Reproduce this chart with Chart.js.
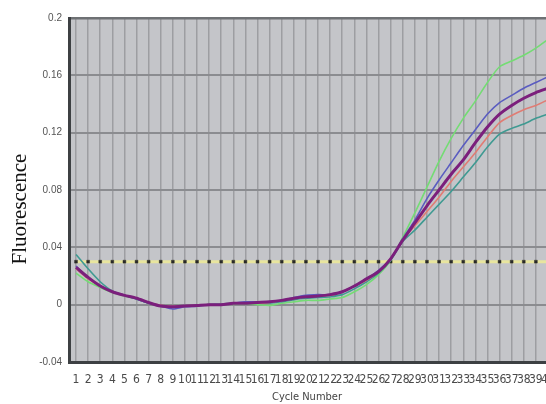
<!DOCTYPE html>
<html>
<head>
<meta charset="utf-8">
<script src="https://cdn.jsdelivr.net/npm/chart.js@4.4.1/dist/chart.umd.min.js"></script>
<style>
  html, body { margin: 0; padding: 0; background: #ffffff; }
  #wrap { width: 546px; height: 404px; overflow: hidden; position: relative; }
  canvas { display: block; }
</style>
</head>
<body>
<div id="wrap"><canvas id="c" width="580" height="404"></canvas></div>
<script>
// Amplification run: cycle numbers and fluorescence readings per well
const cycles = [1,2,3,4,5,6,7,8,9,10,11,12,13,14,15,16,17,18,19,20,
                21,22,23,24,25,26,27,28,29,30,31,32,33,34,35,36,37,38,39,40];

const wellPurple = [0.026,0.019,0.013,0.009,0.0065,0.0045,0.0015,-0.001,-0.0015,-0.001,
                    -0.0005,0.0,0.0,0.001,0.001,0.0015,0.002,0.003,0.0045,0.0055,
                    0.006,0.007,0.009,0.013,0.018,0.023,0.032,0.045,0.057,0.069,
                    0.080,0.091,0.101,0.113,0.124,0.133,0.139,0.144,0.148,0.151];

const wellBlue = [0.027,0.019,0.013,0.009,0.0065,0.004,0.001,-0.001,-0.003,-0.0015,
                  -0.001,0.0,0.0,0.001,0.002,0.002,0.002,0.003,0.005,0.0065,
                  0.007,0.007,0.009,0.013,0.018,0.024,0.032,0.046,0.059,0.074,
                  0.087,0.099,0.111,0.122,0.133,0.141,0.146,0.151,0.155,0.159];

const wellRed = [0.025,0.018,0.013,0.009,0.0065,0.0045,0.0015,-0.0005,-0.001,-0.001,
                 -0.0005,0.0,0.0,0.001,0.001,0.001,0.0015,0.003,0.0045,0.006,
                 0.0065,0.0065,0.009,0.013,0.017,0.023,0.032,0.045,0.055,0.065,
                 0.075,0.086,0.096,0.106,0.117,0.127,0.132,0.136,0.139,0.143];

const wellTeal = [0.035,0.025,0.016,0.0095,0.0065,0.004,0.001,-0.001,-0.0015,-0.001,
                  -0.0005,0.0,0.0005,0.001,0.0015,0.0015,0.001,0.002,0.0035,0.0045,
                  0.005,0.0055,0.007,0.011,0.016,0.022,0.031,0.044,0.052,0.061,
                  0.070,0.079,0.089,0.099,0.110,0.119,0.123,0.126,0.130,0.133];

const wellGreen = [0.022,0.016,0.012,0.0085,0.006,0.004,0.001,-0.001,-0.0015,-0.001,
                   -0.0005,0.0,0.0,0.0005,0.0005,0.0,-0.0005,0.001,0.002,0.003,
                   0.003,0.004,0.005,0.009,0.014,0.021,0.031,0.047,0.064,0.082,
                   0.100,0.116,0.130,0.142,0.155,0.166,0.170,0.174,0.179,0.185];

const threshold = 0.03;
const cycleTicks = [1,2,3,4,5,6,7,8,9,10,11,12,13,14,15,16,17,18,19,20,
                    21,22,23,24,25,26,27,28,29,30,31,32,33,34,35,36,37,38,39,40,41];
const fluorTicks = [-0.04, 0, 0.04, 0.08, 0.12, 0.16, 0.2];

const toXY = arr => arr.map((v, i) => ({ x: cycles[i], y: v }));

const curve = (label, data, color, width) => ({
  label, data: toXY(data), borderColor: color, borderWidth: width,
  pointRadius: 0, tension: 0.25, fill: false
});

// Axis titles drawn on the canvas
const axisTitles = {
  id: 'axisTitles',
  afterDraw(chart) {
    const ctx = chart.ctx;
    ctx.save();
    ctx.fillStyle = '#111';
    ctx.font = '21px "Liberation Serif", "Times New Roman", serif';
    ctx.textAlign = 'center';
    ctx.textBaseline = 'middle';
    ctx.translate(20, 209);
    ctx.rotate(-Math.PI / 2);
    ctx.fillText('Fluorescence', 0, 0);
    ctx.restore();

    ctx.save();
    ctx.fillStyle = '#444';
    ctx.font = '11px "Liberation Sans Narrow", "DejaVu Sans Condensed", Arial, sans-serif';
    ctx.textAlign = 'center';
    ctx.textBaseline = 'middle';
    ctx.fillText('Cycle Number', 307, 397);
    ctx.restore();
  }
};

// Gray plotting area
const plotBg = {
  id: 'plotBg',
  beforeDraw(chart) {
    const a = chart.chartArea, ctx = chart.ctx;
    ctx.save();
    ctx.fillStyle = '#c4c5c9';
    ctx.fillRect(a.left, a.top, a.right - a.left, a.bottom - a.top);
    ctx.restore();
  }
};

new Chart(document.getElementById('c'), {
  type: 'line',
  data: {
    datasets: [
      curve('Well A', wellPurple, '#7b1f7c', 3),
      curve('Well B', wellBlue, '#5a5cc0', 1.6),
      curve('Well C', wellRed, '#e07c74', 1.6),
      curve('Well D', wellTeal, '#3f9a92', 1.6),
      curve('Well E', wellGreen, '#74dc74', 1.6),
      {
        label: 'Threshold',
        data: cycleTicks.map(c => ({ x: c, y: threshold })),
        borderColor: '#e8e59e', borderWidth: 3,
        pointStyle: 'rect', pointRadius: 2,
        pointBackgroundColor: '#2a2a2a', pointBorderColor: '#2a2a2a', pointBorderWidth: 0.5,
        tension: 0
      }
    ]
  },
  options: {
    responsive: false,
    animation: false,
    layout: { padding: { top: 18, right: 14, left: 0, bottom: 0 } },
    plugins: { legend: { display: false }, tooltip: { enabled: false } },
    scales: {
      x: {
        type: 'linear',
        min: 0.42,
        max: 41.49,
        afterBuildTicks: s => { s.ticks = cycleTicks.map(v => ({ value: v })); },
        afterFit: s => { s.height = 42; },
        grid: { color: '#9d9ea2', lineWidth: 1.5, drawTicks: false },
        border: { color: '#3d4043', width: 3 },
        ticks: {
          autoSkip: false, maxRotation: 0, padding: 11,
          color: '#4a4a4a',
          font: { size: 12, family: '"Liberation Sans Narrow", "DejaVu Sans Condensed", Arial, sans-serif' },
          callback: v => String(v)
        }
      },
      y: {
        min: -0.04,
        max: 0.2,
        afterBuildTicks: s => { s.ticks = fluorTicks.map(v => ({ value: v })); },
        afterFit: s => { s.width = 69; },
        grid: {
          color: ctx => ctx.tick && ctx.tick.value === 0.2 ? '#6e7174' : '#8b8c90',
          lineWidth: ctx => ctx.tick && ctx.tick.value === 0.2 ? 2.5 : 2,
          drawTicks: false
        },
        border: { color: '#3d4043', width: 3 },
        ticks: {
          padding: 7,
          color: '#555',
          font: { size: 10, family: '"Liberation Sans", Arial, sans-serif' },
          callback: v => String(parseFloat(v.toFixed(2)))
        }
      }
    }
  },
  plugins: [plotBg, axisTitles]
});
</script>
</body>
</html>
